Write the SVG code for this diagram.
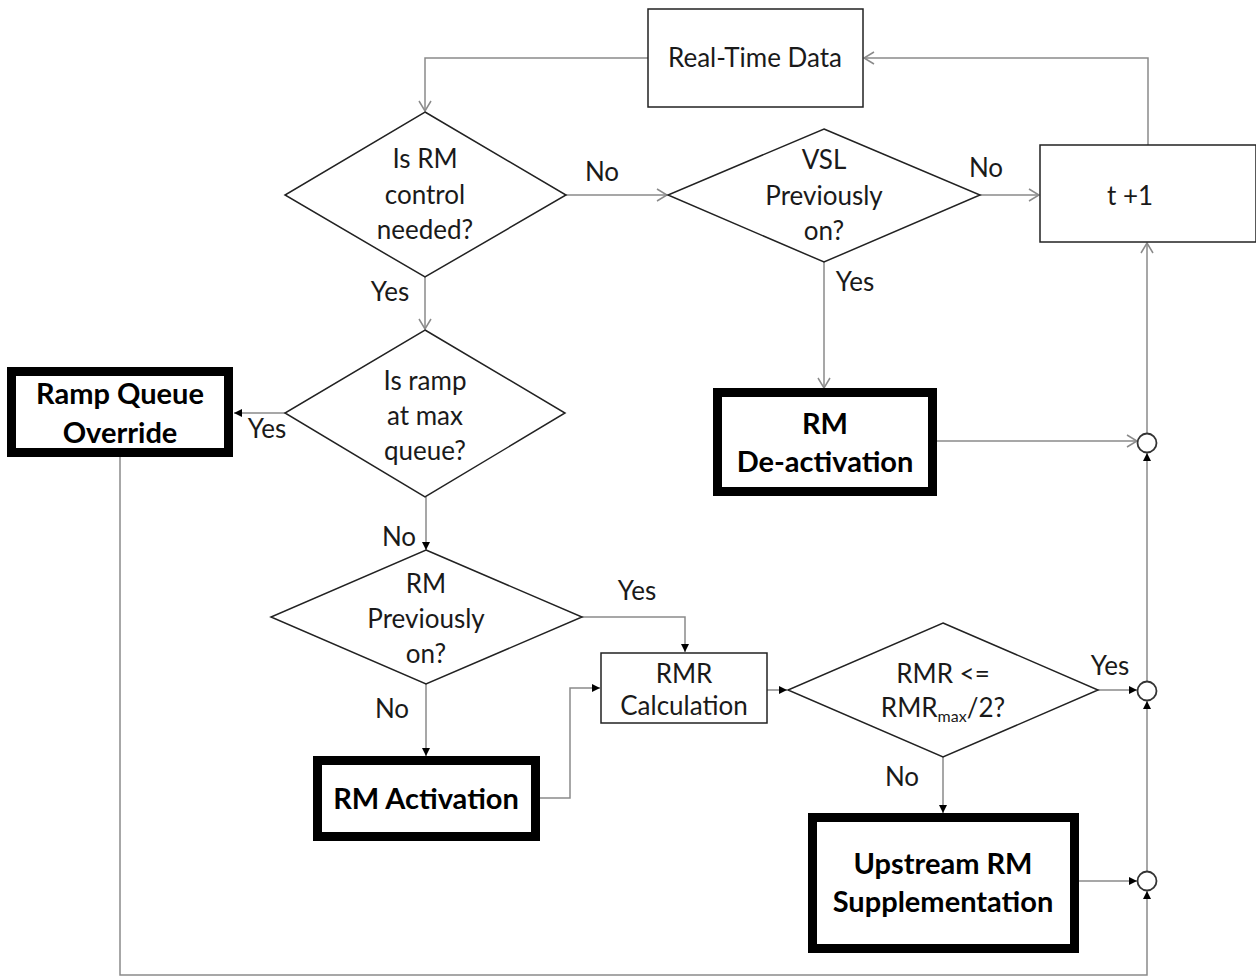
<svg xmlns="http://www.w3.org/2000/svg" width="1256" height="976" viewBox="0 0 1256 976">
  <style>
    text { font-family: Lato, "Open Sans", "Liberation Sans", sans-serif; fill: #1a1a1a; }
    .t { font-size: 26px; text-anchor: middle; }
    .lbl { font-size: 26px; text-anchor: middle; }
    .b { font-size: 29px; font-weight: bold; text-anchor: middle; fill: #000; }
    .box { fill: #fff; stroke: #222; stroke-width: 1.5; }
    .thick { fill: #fff; stroke: #000; stroke-width: 9; }
    .dia { fill: #fff; stroke: #222; stroke-width: 1.5; }
    .c { fill: none; stroke: #8a8a8a; stroke-width: 1.5; }
    .open { marker-end: url(#open); }
    .fill { marker-end: url(#tri); }
    .junc { fill: #fff; stroke: #333; stroke-width: 1.8; }
  </style>
  <defs>
    <marker id="tri" markerUnits="userSpaceOnUse" markerWidth="10" markerHeight="10" refX="9" refY="5" orient="auto">
      <path d="M1,1 L9,5 L1,9 z" fill="#000"/>
    </marker>
    <marker id="open" markerUnits="userSpaceOnUse" markerWidth="12" markerHeight="14" refX="11" refY="7" orient="auto">
      <path d="M1,1 L11,7 L1,13" fill="none" stroke="#8a8a8a" stroke-width="1.5"/>
    </marker>
  </defs>

  <rect width="1256" height="976" fill="#fff"/>

  <!-- connectors -->
  <g id="connectors">
    <path class="c open" d="M648,58 H425 V111"/>
    <path class="c open" d="M1148,145 V58 H864"/>
    <path class="c open" d="M566,195 H667"/>
    <path class="c open" d="M980,195 H1039"/>
    <path class="c open" d="M824,262 V388"/>
    <path class="c open" d="M425,277 V329"/>
    <path class="c fill" d="M285,413 H234"/>
    <path class="c fill" d="M426,497 V550"/>
    <path class="c fill" d="M582,617 H685 V652"/>
    <path class="c fill" d="M426,684 V756"/>
    <path class="c fill" d="M540,798 H570 V688 H600"/>
    <path class="c fill" d="M767,690 H787"/>
    <path class="c fill" d="M943,757 V813"/>
    <path class="c open" d="M937,441 H1137"/>
    <path class="c fill" d="M1098,690 H1137"/>
    <path class="c fill" d="M1079,881 H1137"/>
    <path class="c fill" d="M120,457 V975 H1147 V891"/>
    <path class="c fill" d="M1147,871 V701"/>
    <path class="c fill" d="M1147,681 V453"/>
    <path class="c open" d="M1147,433 V243"/>
    <circle class="junc" cx="1147" cy="443" r="9.5"/>
    <circle class="junc" cx="1147" cy="691" r="9.5"/>
    <circle class="junc" cx="1147" cy="881" r="9.5"/>
  </g>

  <!-- branch labels -->
  <g id="labels">
    <text class="lbl" x="602" y="181">No</text>
    <text class="lbl" x="986" y="177">No</text>
    <text class="lbl" x="855" y="291">Yes</text>
    <text class="lbl" x="390" y="301">Yes</text>
    <text class="lbl" x="267" y="438">Yes</text>
    <text class="lbl" x="399" y="546">No</text>
    <text class="lbl" x="637" y="600">Yes</text>
    <text class="lbl" x="392" y="718">No</text>
    <text class="lbl" x="1110" y="675">Yes</text>
    <text class="lbl" x="902" y="786">No</text>
  </g>

  <g id="realtime">
    <rect class="box" x="648" y="9" width="215" height="98"/>
    <text class="t" x="755" y="67">Real-Time Data</text>
  </g>

  <g id="rm-needed">
    <polygon class="dia" points="425,112 566,195 425,277 285,195"/>
    <text class="t" x="425" y="168">Is RM</text>
    <text class="t" x="425" y="204">control</text>
    <text class="t" x="425" y="239">needed?</text>
  </g>

  <g id="vsl-on">
    <polygon class="dia" points="824,129 980,195 824,262 668,195"/>
    <text class="t" x="824" y="169">VSL</text>
    <text class="t" x="824" y="205">Previously</text>
    <text class="t" x="824" y="240">on?</text>
  </g>

  <g id="tplus1">
    <rect class="box" x="1040" y="145" width="216" height="97"/>
    <text class="t" x="1130" y="205">t +1</text>
  </g>

  <g id="rm-deactivation">
    <rect class="thick" x="717.5" y="392.5" width="215" height="99"/>
    <text class="b" x="825" y="434">RM</text>
    <text class="b" x="825" y="472">De-activation</text>
  </g>

  <g id="max-queue">
    <polygon class="dia" points="425,330 565,413 425,497 285,413"/>
    <text class="t" x="425" y="390">Is ramp</text>
    <text class="t" x="425" y="425">at max</text>
    <text class="t" x="425" y="460">queue?</text>
  </g>

  <g id="queue-override">
    <rect class="thick" x="11.5" y="371.5" width="217" height="81"/>
    <text class="b" x="120" y="404">Ramp Queue</text>
    <text class="b" x="120" y="443">Override</text>
  </g>

  <g id="rm-on">
    <polygon class="dia" points="426,550 582,617 426,684 271,617"/>
    <text class="t" x="426" y="593">RM</text>
    <text class="t" x="426" y="628">Previously</text>
    <text class="t" x="426" y="663">on?</text>
  </g>

  <g id="rmr-calc">
    <rect class="box" x="601" y="653" width="166" height="70"/>
    <text class="t" x="684" y="683">RMR</text>
    <text class="t" x="684" y="715">Calculation</text>
  </g>

  <g id="rmr-check">
    <polygon class="dia" points="943,623 1098,690 943,757 788,690"/>
    <text class="t" x="943" y="683">RMR &lt;=</text>
    <text class="t" x="943" y="717">RMR<tspan font-size="16" dy="5">max</tspan><tspan dy="-5">/2?</tspan></text>
  </g>

  <g id="rm-activation">
    <rect class="thick" x="317.5" y="760.5" width="218" height="76"/>
    <text class="b" x="426" y="809">RM Activation</text>
  </g>

  <g id="upstream">
    <rect class="thick" x="812.5" y="817.5" width="262" height="131"/>
    <text class="b" x="943" y="874">Upstream RM</text>
    <text class="b" x="943" y="912">Supplementation</text>
  </g>
</svg>
